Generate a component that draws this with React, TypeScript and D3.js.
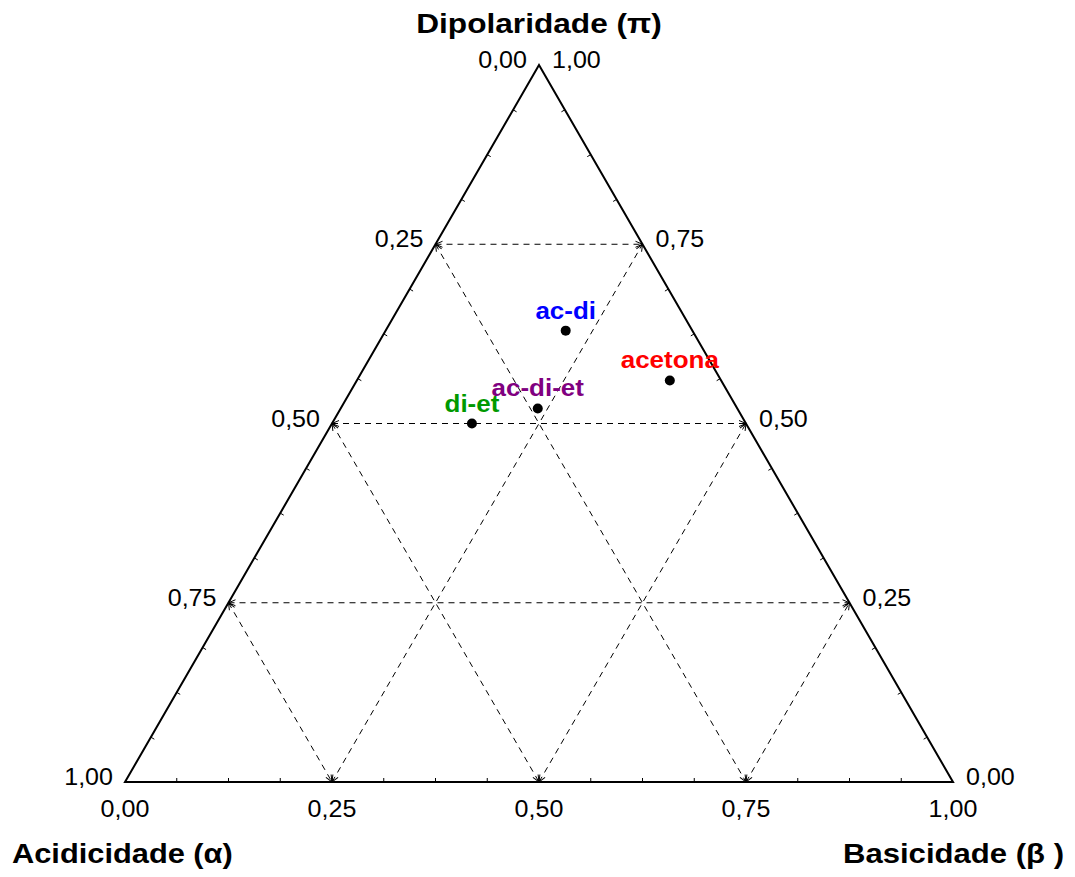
import React from "react";
import * as d3 from "d3";

const names = ["ac-di", "acetona", "ac-di-et", "di-et"];
const alphaVals = [0.153, 0.062, 0.241, 0.331];
const betaVals = [0.2175, 0.378, 0.238, 0.169];
const piVals = [0.6295, 0.56, 0.521, 0.5];
const colors = ["#0000FF", "#FF0000", "#800080", "#009900"];
const majorTicks = [0.25, 0.5, 0.75];
const labelVals = [0, 0.25, 0.5, 0.75, 1];
const fmt = (v: number) => v.toFixed(2).replace(".", ",");

const W = 1075;
const H = 877;
const FONT = "'Liberation Sans', Arial, sans-serif";

function SText(props: {
  x: number; y: number; anchor: string; sx: number; size: number;
  bold?: boolean; fill?: string; children: React.ReactNode;
}) {
  return (
    <text transform={`translate(${props.x},${props.y}) scale(${props.sx},1)`}
      textAnchor={props.anchor as any} fontFamily={FONT} fontSize={props.size}
      fontWeight={props.bold ? "bold" : "normal"} fill={props.fill || "#000"}>
      {props.children}
    </text>
  );
}

export default function App() {
  const x = d3.scaleLinear().domain([0, 1]).range([125, 953]);
  const y = d3.scaleLinear().domain([0, 1]).range([782, 65]);
  const P = (a: number, b: number, p: number): [number, number] => {
    const s = a + b + p;
    const bb = b / s, pp = p / s;
    return [x(bb + pp / 2), y(pp)];
  };
  const A = P(0, 0, 1);
  const L = P(1, 0, 0);
  const R = P(0, 1, 0);
  const tri = d3.line()([A, R, L, A]) + "Z";

  const grid: [number, number][][] = [];
  majorTicks.forEach((k) => {
    grid.push([P(1 - k, 0, k), P(0, 1 - k, k)]);
    grid.push([P(k, 0, 1 - k), P(k, 1 - k, 0)]);
    grid.push([P(1 - k, k, 0), P(0, k, 1 - k)]);
  });

  const minor = d3.range(1, 16).map((i) => i / 16);
  const tickLen = 4;
  const ticks: [number, number][][] = [];
  const edges: [[number, number], [number, number], [number, number]][] = [
    [L, R, A],
    [R, A, L],
    [A, L, R],
  ];
  edges.forEach(([p0, p1, opp]) => {
    const dx = p1[0] - p0[0], dy = p1[1] - p0[1];
    const len = Math.hypot(dx, dy);
    let nx = -dy / len, ny = dx / len;
    const mx = (p0[0] + p1[0]) / 2, my = (p0[1] + p1[1]) / 2;
    if ((opp[0] - mx) * nx + (opp[1] - my) * ny < 0) { nx = -nx; ny = -ny; }
    minor.forEach((t) => {
      const px = p0[0] + dx * t, py = p0[1] + dy * t;
      ticks.push([[px, py], [px + nx * tickLen, py + ny * tickLen]]);
    });
  });

  const tickLabels: { x: number; y: number; t: string; anchor: string }[] = [];
  labelVals.forEach((v) => {
    const lp = P(v, 0, 1 - v);
    tickLabels.push({ x: lp[0] - 12, y: lp[1] + 3, t: fmt(v), anchor: "end" });
    const rp = P(0, 1 - v, v);
    tickLabels.push({ x: rp[0] + 13, y: rp[1] + 3, t: fmt(v), anchor: "start" });
    const bp = P(1 - v, v, 0);
    tickLabels.push({ x: bp[0], y: bp[1] + 35, t: fmt(v), anchor: "middle" });
  });

  return (
    <svg width={W} height={H} style={{ position: "absolute", left: 0, top: 0, background: "#fff" }}>
      <defs>
        <marker id="arr" viewBox="-1 -5 10 10" refX={7} refY={0} markerWidth={10} markerHeight={10}
          markerUnits="userSpaceOnUse" orient="auto-start-reverse">
          <path d="M0,-3L7,0L0,3" fill="none" stroke="#000" strokeWidth={1} />
        </marker>
      </defs>
      <rect width={W} height={H} fill="#fff" />
      {grid.map((g, i) => (
        <line key={i} x1={g[0][0]} y1={g[0][1]} x2={g[1][0]} y2={g[1][1]} stroke="#000" strokeWidth={1}
          strokeDasharray="6,5" markerStart="url(#arr)" markerEnd="url(#arr)" />
      ))}
      {ticks.map((t, i) => (
        <line key={i} x1={t[0][0]} y1={t[0][1]} x2={t[1][0]} y2={t[1][1]} stroke="#000" strokeWidth={1} />
      ))}
      <path d={tri} fill="none" stroke="#000" strokeWidth={2} strokeLinejoin="miter" />
      {tickLabels.map((l, i) => (
        <SText key={i} x={l.x} y={l.y} anchor={l.anchor} sx={1.09} size={23}>{l.t}</SText>
      ))}
      {names.map((n, i) => {
        const [px, py] = P(alphaVals[i], betaVals[i], piVals[i]);
        return (
          <g key={n}>
            <circle cx={px} cy={py} r={5} fill="#000" />
            <SText x={px} y={py - 12} anchor="middle" sx={1.13} size={23} bold fill={colors[i]}>{n}</SText>
          </g>
        );
      })}
      <SText x={539} y={33} anchor="middle" sx={1.13} size={28} bold>Dipolaridade (π)</SText>
      <SText x={12} y={863} anchor="start" sx={1.1} size={28} bold>Acidicidade (α)</SText>
      <SText x={1064} y={863} anchor="end" sx={1.11} size={28} bold>Basicidade (β )</SText>
    </svg>
  );
}
